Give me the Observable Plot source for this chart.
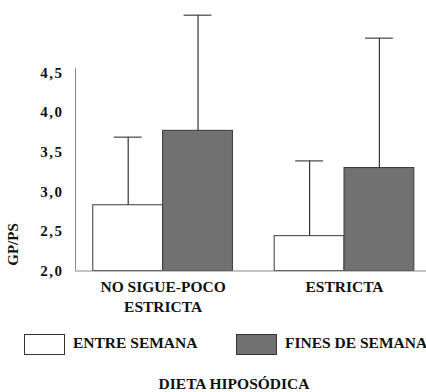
<!DOCTYPE html>
<html>
<head>
<meta charset="utf-8">
<script src="https://cdn.jsdelivr.net/npm/d3@7"></script>
<script src="https://cdn.jsdelivr.net/npm/@observablehq/plot@0.6"></script>
<style>
  html, body { margin: 0; padding: 0; background: #fff; }
  #wrap { position: relative; width: 426px; height: 392px; overflow: hidden; font-family: "Liberation Serif", "Times New Roman", serif; font-weight: bold; color: #111; }
  #chart { position: absolute; left: 0; top: 0; }
  [aria-label="y-axis tick label"] text { letter-spacing: 1.5px; }
  .lg { position: absolute; font-size: 15.5px; line-height: 20px; white-space: nowrap; }
  .box { position: absolute; width: 39px; height: 19px; border: 1px solid #333; box-sizing: content-box; }
  #title { position: absolute; left: 0; width: 468px; text-align: center; top: 377px; height: 14px; line-height: 14px; font-size: 15.5px; white-space: nowrap; }
</style>
</head>
<body>
<div id="wrap">
  <div id="chart"></div>
  <div class="box" style="left:24px; top:334px; background:#fff;"></div>
  <div class="lg" style="left:73px; top:333px;" id="lg0"></div>
  <div class="box" style="left:236px; top:334px; background:#717171;"></div>
  <div class="lg" style="left:285px; top:333px;" id="lg1"></div>
  <div id="title">DIETA HIPOSÓDICA</div>
</div>
<script>
const groups = ["NO SIGUE-POCO\nESTRICTA", "ESTRICTA"];
const series = ["ENTRE SEMANA", "FINES DE SEMANA"];
const entreMean = [2.83, 2.44];
const entreErr = [0.86, 0.95];
const finesMean = [3.77, 3.30];
const finesErr = [1.46, 1.64];
const yTicks = [2.0, 2.5, 3.0, 3.5, 4.0, 4.5];
const yLabel = "GP/PS";

const colors = ["#ffffff", "#717171"];
const barW = 0.385;
const capW = 0.154;

const rows = [];
groups.forEach((g, gi) => {
  [[entreMean, entreErr], [finesMean, finesErr]].forEach(([m, e], si) => {
    rows.push({
      group: g, series: series[si], mean: m[gi], err: e[gi],
      x1: gi + (si - 1) * barW, x2: gi + si * barW,
      xc: gi + (si - 0.5) * barW
    });
  });
});
const labelRows = groups.map((g, gi) => ({text: g, x: gi}));

const xDomain = [-0.483, 1.452];

const chart = Plot.plot({
  width: 426,
  height: 318,
  marginLeft: 75,
  marginRight: 0,
  marginTop: 67.75,
  marginBottom: 47.5,
  style: {fontFamily: "'Liberation Serif', 'Times New Roman', serif", fontSize: "15px", fontWeight: "bold", color: "#111", background: "#fff"},
  x: {domain: xDomain, axis: null},
  y: {domain: [2, 4.56], ticks: yTicks, tickFormat: d => d.toFixed(1).replace(".", ","), tickSize: 0, tickPadding: 12, label: null},
  color: {domain: series, range: colors},
  marks: [
    Plot.rectY(rows, {x1: "x1", x2: "x2", y1: 2, y2: "mean", fill: "series", stroke: "#3a3a3a", strokeWidth: 1}),
    Plot.ruleX(rows, {x: "xc", y1: "mean", y2: d => d.mean + d.err, stroke: "#333", strokeWidth: 1.2}),
    Plot.ruleY(rows, {y: d => d.mean + d.err, x1: d => d.xc - capW / 2, x2: d => d.xc + capW / 2, stroke: "#444", strokeWidth: 1.2}),
    Plot.ruleY([2], {stroke: "#888", strokeWidth: 1}),
    Plot.ruleX([xDomain[0]], {stroke: "#888", strokeWidth: 1}),
    Plot.text(labelRows, {x: "x", y: 2, text: "text", dy: 7, lineAnchor: "top", lineHeight: 1.29, fontSize: 15.5, fontWeight: "bold", fill: "#111"}),
    Plot.text([yLabel], {frameAnchor: "bottom-left", text: d => d, rotate: -90, dx: -58, dy: -26.5, textAnchor: "middle", fontSize: 15, fontWeight: "bold", fill: "#111"})
  ]
});
document.getElementById("chart").appendChild(chart);
document.getElementById("lg0").textContent = series[0];
document.getElementById("lg1").textContent = series[1];
</script>
</body>
</html>
